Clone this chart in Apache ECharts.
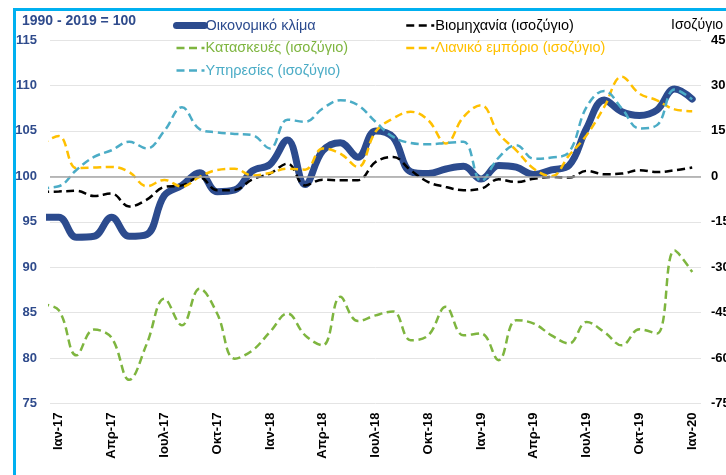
<!DOCTYPE html>
<html>
<head>
<meta charset="utf-8">
<script src="https://cdn.jsdelivr.net/npm/echarts@6.0.0/dist/echarts.min.js"></script>
<style>
  html, body { margin: 0; padding: 0; background: #fff; }
  #chart { width: 726px; height: 475px; }
</style>
</head>
<body>
<div id="chart"></div>
<script>
// ετικέτες άξονα: Ιαν-17 ... Ιαν-20
var months = [
  'Ιαν-17','Φεβ-17','Μαρ-17','Απρ-17','Μαϊ-17','Ιουν-17','Ιουλ-17','Αυγ-17','Σεπ-17','Οκτ-17','Νοε-17','Δεκ-17',
  'Ιαν-18','Φεβ-18','Μαρ-18','Απρ-18','Μαϊ-18','Ιουν-18','Ιουλ-18','Αυγ-18','Σεπ-18','Οκτ-18','Νοε-18','Δεκ-18',
  'Ιαν-19','Φεβ-19','Μαρ-19','Απρ-19','Μαϊ-19','Ιουν-19','Ιουλ-19','Αυγ-19','Σεπ-19','Οκτ-19','Νοε-19','Δεκ-19',
  'Ιαν-20'
];

// οι σειρές ξεκινούν από Δεκ-16 (κομμένο στην αρχή του γραφήματος), μετά Ιαν-17 ... Ιαν-20
// δείκτης (αριστερός άξονας, 1990-2019 = 100)
var climate = [95.5,
  95.5, 93.3, 93.4, 95.5, 93.4, 93.6, 97.9, 99.0, 100.4, 98.3, 98.5, 100.6,
  101.3, 104.0, 99.1, 102.8, 103.7, 102.1, 105.0, 104.3, 100.5, 100.3, 100.8, 101.1,
  99.7, 101.2, 101.0, 100.2, 100.7, 101.2, 105.3, 108.4, 107.1, 106.7, 107.3, 109.6,
  108.5];

// ισοζύγια (δεξιός άξονας)
var industry = [-5.2,
  -5.0, -4.8, -6.5, -5.7, -10.0, -7.7, -3.5, -3.0, -0.3, -4.6, -4.5, -1.0,
  0.9, 4.2, -3.0, -1.1, -1.3, -1.3, 4.7, 6.4, 2.0, -1.9, -3.5, -4.6,
  -4.1, -1.0, -1.9, -0.8, -0.2, -0.4, 1.8, 0.7, 0.9, 2.0, 1.4, 2.0,
  2.9];
var construction = [-42.3,
  -44.2, -59.1, -50.6, -53.3, -67.2, -55.3, -40.4, -49.2, -37.1, -45.3, -60.2, -57.5,
  -51.4, -45.3, -52.5, -55.8, -39.8, -47.8, -45.9, -44.6, -54.1, -52.5, -43.1, -52.5,
  -51.9, -60.7, -47.5, -48.6, -52.5, -55.2, -48.1, -51.4, -55.8, -50.5, -51.9, -24.5,
  -31.6];
var retail = [10.5,
  13.3, 2.7, 2.9, 3.1, 1.4, -3.3, -1.2, -3.4, -0.2, 2.1, 2.5, 0.3,
  1.1, 2.5, 2.2, 9.2, 7.5, 3.1, 14.7, 19.1, 21.3, 18.5, 10.8, 19.6,
  23.5, 14.1, 8.6, 2.5, 0.0, 6.9, 13.6, 22.9, 32.9, 27.3, 25.1, 22.1,
  21.5];
var services = [-3.9,
  -3.3, 2.1, 6.4, 8.6, 11.4, 9.2, 15.0, 22.8, 15.6, 14.5, 14.0, 13.6,
  9.2, 18.7, 18.0, 22.4, 25.1, 23.5, 18.0, 13.0, 11.0, 10.6, 11.0, 11.4,
  -1.5, 6.2, 10.3, 5.8, 6.2, 8.0, 22.9, 28.2, 22.4, 15.8, 16.9, 28.7,
  25.4];

var leftTicks = { min: 75, max: 115, step: 5 };
var rightTicks = { min: -75, max: 45, step: 15 };

var FONT = '"Liberation Sans", Arial, sans-serif';
var C_BLUE = '#2C4B8E', C_BLACK = '#000000', C_GREEN = '#7EB53F',
    C_ORANGE = '#FFC000', C_TEAL = '#4BACC6';

var dash = [8, 4.5];

// θέση 0 = Δεκ-16, 1 = Ιαν-17, ...
function pts(arr) {
  return arr.map(function (v, i) { return [i, v]; });
}

function dashed(name, data, color) {
  return {
    name: name,
    type: 'line',
    xAxisIndex: 1,
    yAxisIndex: 1,
    data: pts(data),
    smooth: 0.4,
    symbol: 'none',
    clip: true,
    lineStyle: { color: color, width: 2.5, type: dash },
    itemStyle: { color: color }
  };
}

var chart = echarts.init(document.getElementById('chart'), null, { renderer: 'canvas' });

var legendBase = {
  orient: 'vertical', top: 18, padding: 0,
  itemWidth: 28, itemHeight: 14, itemGap: 7.5,
  lineStyle: { width: 'inherit' },
  itemStyle: { opacity: 0 },
  textStyle: { fontFamily: FONT, fontSize: 14.5, padding: [0, 0, 0, -4] }
};

var option = {
  backgroundColor: '#fff',
  animation: false,
  textStyle: { fontFamily: FONT },
  graphic: [{
    type: 'rect',
    shape: { x: 14.5, y: 9.5, width: 800, height: 600 },
    style: { fill: 'none', stroke: '#00B0F0', lineWidth: 3 },
    silent: true
  }],
  title: [
    {
      text: '1990 - 2019 = 100', left: 22, top: 14, padding: 0,
      textStyle: { fontFamily: FONT, fontSize: 14, fontWeight: 'bold', color: '#2F4B8C' }
    },
    {
      text: 'Ισοζύγιο', left: 671, top: 18, padding: 0,
      textStyle: { fontFamily: FONT, fontSize: 14, fontWeight: 'normal', color: '#000' }
    }
  ],
  legend: [
    Object.assign({}, legendBase, {
      left: 173,
      data: [
        { name: 'Οικονομικό κλίμα', textStyle: { color: C_BLUE } },
        { name: 'Κατασκευές (ισοζύγιο)', textStyle: { color: C_GREEN } },
        { name: 'Υπηρεσίες (ισοζύγιο)', textStyle: { color: C_TEAL } }
      ]
    }),
    Object.assign({}, legendBase, {
      left: 405,
      data: [
        { name: 'Βιομηχανία (ισοζύγιο)', textStyle: { color: C_BLACK } },
        { name: 'Λιανικό εμπόριο (ισοζύγιο)', textStyle: { color: C_ORANGE } }
      ]
    })
  ],
  grid: { left: 50, right: 25, top: 40, bottom: 71.5, containLabel: false, outerBoundsMode: 'none' },
  xAxis: [
    {
      // άξονας ετικετών
      type: 'category',
      data: months,
      boundaryGap: true,
      axisLine: { show: false },
      axisTick: { show: false },
      axisLabel: {
        interval: 2,
        rotate: 90,
        margin: 9,
        color: '#000',
        fontFamily: FONT,
        fontSize: 13,
        fontWeight: 'bold'
      },
      splitLine: { show: false }
    },
    {
      // άξονας δεδομένων (μισό μήνα πριν το Ιαν-17 έως μισό μήνα μετά το Ιαν-20)
      type: 'value',
      min: 0.5,
      max: 37.5,
      show: false,
      splitLine: { show: false }
    }
  ],
  yAxis: [
    {
      type: 'value',
      min: leftTicks.min, max: leftTicks.max, interval: leftTicks.step,
      axisLine: { show: false },
      axisTick: { show: false },
      axisLabel: { color: '#2F4B8C', fontFamily: FONT, fontSize: 13, fontWeight: 'bold', margin: 13 },
      splitLine: { show: true, lineStyle: { color: '#E4E4E4', width: 1 } }
    },
    {
      type: 'value',
      min: rightTicks.min, max: rightTicks.max, interval: rightTicks.step,
      axisLine: { show: false },
      axisTick: { show: false },
      axisLabel: { color: '#000', fontFamily: FONT, fontSize: 13, fontWeight: 'bold', margin: 10 },
      splitLine: { show: false }
    }
  ],
  series: [
    {
      // γκρι γραμμή αναφοράς στο 100
      name: 'ref', type: 'line', data: [], xAxisIndex: 0, yAxisIndex: 0, z: 1, silent: true,
      markLine: {
        silent: true, symbol: 'none', label: { show: false },
        lineStyle: { color: '#A6A6A6', width: 1.5, type: 'solid' },
        data: [{ yAxis: 100 }]
      }
    },
    {
      name: 'Οικονομικό κλίμα',
      type: 'line',
      xAxisIndex: 1,
      yAxisIndex: 0,
      data: pts(climate),
      smooth: 0.4,
      symbol: 'none',
      clip: true,
      z: 2,
      lineStyle: { color: C_BLUE, width: 7, cap: 'round', join: 'round' },
      itemStyle: { color: C_BLUE }
    },
    dashed('Βιομηχανία (ισοζύγιο)', industry, C_BLACK),
    dashed('Κατασκευές (ισοζύγιο)', construction, C_GREEN),
    dashed('Λιανικό εμπόριο (ισοζύγιο)', retail, C_ORANGE),
    dashed('Υπηρεσίες (ισοζύγιο)', services, C_TEAL)
  ]
};

chart.setOption(option);
</script>
</body>
</html>
